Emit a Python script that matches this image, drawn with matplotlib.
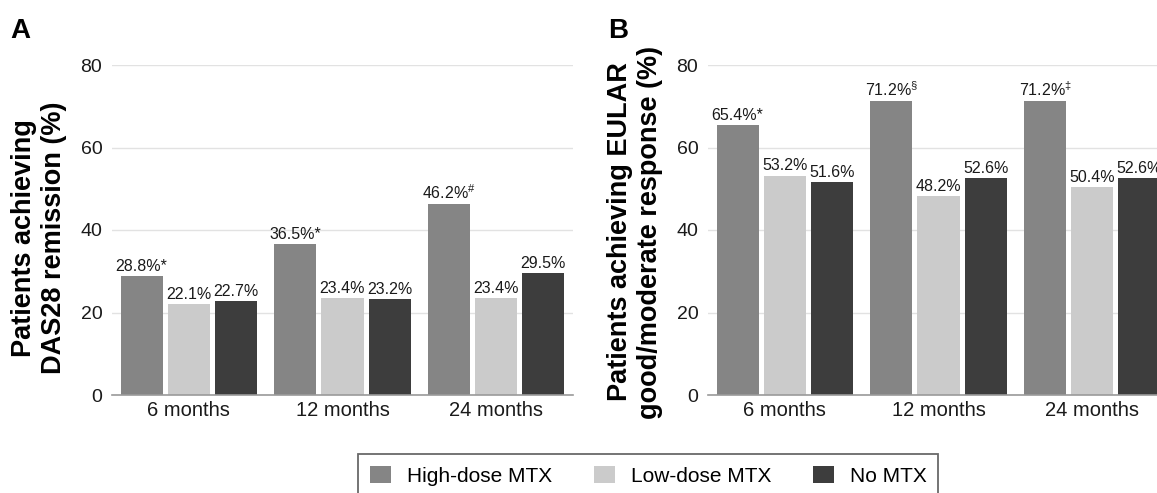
import matplotlib
matplotlib.use("Agg")
import matplotlib.pyplot as plt
import numpy as np

plt.rcParams['font.family'] = ['Liberation Sans', 'DejaVu Sans']
plt.rcParams['mathtext.fontset'] = 'custom'
plt.rcParams['mathtext.rm'] = 'Liberation Sans'
plt.rcParams['mathtext.it'] = 'Liberation Sans'
plt.rcParams['mathtext.bf'] = 'Liberation Sans:bold'

# data
timepoints = ["6 months", "12 months", "24 months"]
groups = ["High-dose MTX", "Low-dose MTX", "No MTX"]
colors = ["#858585", "#cbcbcb", "#3d3d3d"]

das28_high = [28.8, 36.5, 46.2]
das28_low = [22.1, 23.4, 23.4]
das28_none = [22.7, 23.2, 29.5]
das28_marks = ["*", "*", "$^{\\#}$"]

eular_high = [65.4, 71.2, 71.2]
eular_low = [53.2, 48.2, 50.4]
eular_none = [51.6, 52.6, 52.6]
eular_marks = ["*", "$^{§}$", "$^{‡}$"]

yticks = [0, 20, 40, 60, 80]

W, H = 1157, 493
fig = plt.figure(figsize=(W / 100, H / 100), dpi=100)


def px_axes(left, top, width, height):
    return fig.add_axes([left / W, 1 - (top + height) / H, width / W, height / H])


def draw_panel(ax, series, marks):
    x = np.arange(len(timepoints))
    step, width = 0.307, 0.275
    handles = []
    for j, vals in enumerate(series):
        bars = ax.bar(x + (j - 1) * step, vals, width, color=colors[j],
                      edgecolor="none", zorder=3, label=groups[j])
        labels = []
        for k, v in enumerate(vals):
            s = f"{v:.1f}%"
            if j == 0:
                s += marks[k]
            labels.append(s)
        ax.bar_label(bars, labels=labels, padding=1.5, fontsize=11.5, color="#1a1a1a")
        handles.append(bars)
    ax.set_xlim(-0.5, 2.5)
    ax.set_ylim(0, 80)
    ax.set_yticks(yticks)
    ax.set_xticks(x)
    ax.set_xticklabels(timepoints)
    ax.yaxis.grid(True, color="#e2e2e2", lw=1.0, zorder=0)
    ax.set_axisbelow(True)
    for side in ["top", "right", "left"]:
        ax.spines[side].set_visible(False)
    ax.spines["bottom"].set_color("#9a9a9a")
    ax.spines["bottom"].set_linewidth(1.2)
    ax.spines["bottom"].set_zorder(4)
    ax.tick_params(axis="y", length=0, pad=7, labelsize=14, labelcolor="#1a1a1a")
    ax.tick_params(axis="x", length=0, pad=4, labelsize=14.5, labelcolor="#1a1a1a")
    return handles


axA = px_axes(112, 65, 461, 330)
axB = px_axes(708, 65, 461, 330)

handles = draw_panel(axA, [das28_high, das28_low, das28_none], das28_marks)
draw_panel(axB, [eular_high, eular_low, eular_none], eular_marks)

# panel letters
fig.text(10 / W, 1 - 38 / H, "A", fontsize=20, fontweight="bold", va="baseline")
fig.text(608 / W, 1 - 38 / H, "B", fontsize=20, fontweight="bold", va="baseline")

# y labels
fig.text(39 / W, 1 - 238 / H, "Patients achieving\nDAS28 remission (%)",
         rotation=90, ha="center", va="center", fontsize=19.5,
         fontweight="bold", linespacing=1.2)
fig.text(635 / W, 1 - 232 / H, "Patients achieving EULAR\ngood/moderate response (%)",
         rotation=90, ha="center", va="center", fontsize=19.5,
         fontweight="bold", linespacing=1.2)

leg = fig.legend(handles=handles, labels=groups, loc="upper left",
                 bbox_to_anchor=(358 / W, 1 - 454 / H), ncol=3, fontsize=15,
                 frameon=True, fancybox=False, handlelength=1.0, handleheight=0.9,
                 handletextpad=0.77, columnspacing=2.0, borderpad=0.58,
                 borderaxespad=0)
leg.get_frame().set_edgecolor("#444444")
leg.get_frame().set_linewidth(1.3)

fig.savefig("out.png", dpi=100)
